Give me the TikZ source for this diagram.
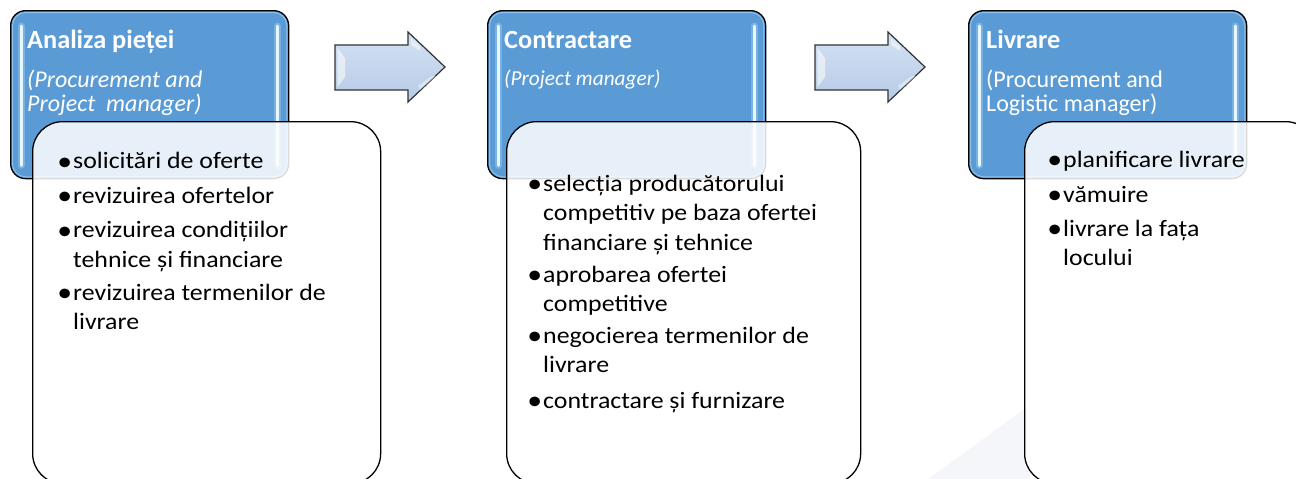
\documentclass[tikz,border=0pt]{standalone}
\usepackage{fontspec}
\setmainfont{Carlito}
\newfontfamily\bodyf[FakeStretch=1.1]{Carlito}
\newfontfamily\subf{Carlito}
\definecolor{hblue}{HTML}{5B9BD5}
\definecolor{hblueedge}{HTML}{8CC0EC}
\definecolor{hilite}{HTML}{E6F7FF}
\definecolor{arrowtop}{HTML}{D3E1F3}
\definecolor{arrowbot}{HTML}{B7CBE7}
\definecolor{faint}{HTML}{F5F6FA}
\newcommand\bitem[1]{\llap{\raisebox{-1.8pt}{\scalebox{1.15}{•}}\hspace{1pt}}\begin{tabular}[t]{@{}l@{}}#1\end{tabular}}
\newcommand\lines[1]{\begin{tabular}[t]{@{}l@{}}#1\end{tabular}}
\tikzset{
  hbox/.style={draw=black, line width=1.3pt, rounded corners=15pt, fill=hblue,
    minimum width=278pt, minimum height=168pt, anchor=north west, inner sep=0pt},
  wbox/.style={draw=black, line width=1.3pt, rounded corners=30pt, fill=white,
    fill opacity=0.86, minimum height=362pt, anchor=north west, inner sep=0pt},
  hl/.style={line width=3pt, line cap=round, draw=hilite},
  hlglow/.style={line width=7pt, line cap=round, draw=hblueedge, opacity=0.6},
  blockarrow/.style={draw=black!80, line width=1.2pt, line join=miter, top color=arrowtop, bottom color=arrowbot},
  ttl/.style={anchor=base west, inner sep=0pt, text=white, font=\fontsize{26.3}{26}\selectfont\bfseries},
  sub/.style={anchor=base west, inner sep=0pt, text=white, font=\subf\fontsize{24}{23}\selectfont},
  itm/.style={anchor=base west, inner sep=0pt, text=black, font=\bodyf\fontsize{23.5}{29.5}\selectfont}
}
\begin{document}
\begin{tikzpicture}[x=1pt,y=-1pt]
\useasboundingbox (0,0) rectangle (1296,479);
\clip (0,0) rectangle (1296,479);
% faint background shape
\fill[faint] (928,479) -- (1030,405) -- (1030,479) -- cycle;
% header boxes
\foreach \n/\x in {h1/10, h2/487, h3/968}{
  \node[hbox] (\n) at (\x,10) {};
  \draw[hblueedge, line width=1pt, rounded corners=13pt] ([xshift=2.5pt,yshift=-2.5pt]\n.north west) rectangle ([xshift=-2.5pt,yshift=2.5pt]\n.south east);
  \draw[hlglow] ([xshift=11pt,yshift=-16pt]\n.north west) -- ([xshift=11pt,yshift=14pt]\n.south west);
  \draw[hl] ([xshift=11pt,yshift=-16pt]\n.north west) -- ([xshift=11pt,yshift=14pt]\n.south west);
  \draw[hlglow] ([xshift=-12pt,yshift=-16pt]\n.north east) -- ([xshift=-12pt,yshift=14pt]\n.south east);
  \draw[hl] ([xshift=-12pt,yshift=-16pt]\n.north east) -- ([xshift=-12pt,yshift=14pt]\n.south east);
}
% block arrows
\foreach \n/\dx in {a1/0, a2/480}{
  \begin{scope}[xshift=\dx pt]
  \draw[blockarrow] (335,45) -- (408,45) -- (408,32) -- (445,67) -- (408,102) -- (408,90) -- (335,90) -- cycle;
  \fill[white, opacity=0.55] (337.5,48) -- (345,58) -- (345,77) -- (337.5,87) -- cycle;
  \fill[white, opacity=0.45] (411,38) -- (420,46) -- (420,51) -- (411,45) -- cycle;
  \fill[white, opacity=0.45] (418,86) -- (432,76) -- (436,76) -- (420,90) -- cycle;
  \end{scope}
}
% white content boxes
\node[wbox, minimum width=348pt] (w1) at (32,121) {};
\node[wbox, minimum width=354pt] (w2) at (506,121) {};
\node[wbox, minimum width=291pt] (w3) at (1024,121) {};
% titles
\node[ttl] (t1) at (27,48.5) {Analiza pieței};
\node[ttl] (t2) at (504,48.5) {Contractare};
\node[ttl] (t3) at (986,48.5) {Livrare};
\node[sub, font=\subf\fontsize{24}{23}\selectfont\itshape] (s1) at (27,87) {\lines{(Procurement and\\Project\ \ manager)}};
\node[sub, font=\subf\fontsize{21.3}{23}\selectfont\itshape] (s2) at (504,85) {(Project manager)};
\node[sub] (s3) at (986,87) {\lines{(Procurement and\\Logistic manager)}};
% box 1 items
\node[itm] (b11) at (73,168.5) {\bitem{solicitări de oferte}};
\node[itm] (b12) at (73,203) {\bitem{revizuirea ofertelor}};
\node[itm] (b13) at (73,237.5) {\bitem{revizuirea condițiilor\\tehnice și financiare}};
\node[itm] (b14) at (73,300) {\bitem{revizuirea termenilor de\\livrare}};
% box 2 items
\node[itm] (b21) at (543,191) {\bitem{selecția producătorului\\competitiv pe baza ofertei\\financiare și tehnice}};
\node[itm] (b22) at (543,282) {\bitem{aprobarea ofertei\\competitive}};
\node[itm] (b23) at (543,343) {\bitem{negocierea termenilor de\\livrare}};
\node[itm] (b24) at (543,408) {\bitem{contractare și furnizare}};
% box 3 items
\node[itm] (b31) at (1063,167) {\bitem{planificare livrare}};
\node[itm] (b32) at (1063,202) {\bitem{vămuire}};
\node[itm] (b33) at (1063,236) {\bitem{livrare la fața\\locului}};
\end{tikzpicture}
\end{document}
